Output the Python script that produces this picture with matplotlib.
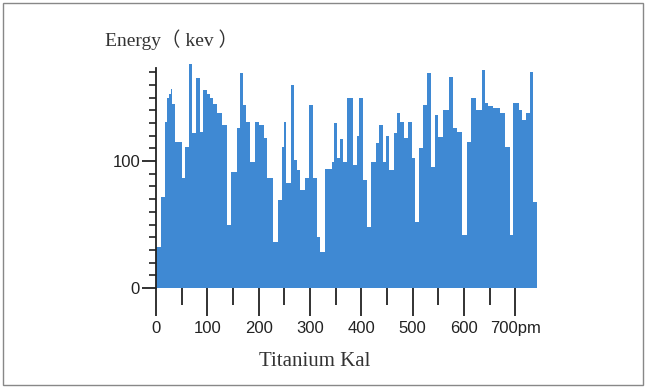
import matplotlib
matplotlib.use("Agg")
import matplotlib.pyplot as plt
from matplotlib.ticker import MultipleLocator, FixedLocator
from matplotlib.patches import Rectangle
import numpy as np

# Segment edges (x, pm) and bar heights (energy, keV)
edges = [0, 9, 17, 22, 25, 30, 32, 37, 51, 57, 64, 70, 78, 86, 92, 99, 105, 111, 119, 129,
         138, 146, 158, 164, 170, 175, 183, 193, 201, 210, 216, 228, 238, 245, 249, 253,
         263, 269, 275, 281, 290, 298, 306, 314, 320, 329, 343, 347, 353, 358, 364, 372,
         384, 392, 396, 403, 411, 419, 428, 435, 442, 448, 454, 464, 470, 475, 483, 491,
         499, 505, 513, 520, 528, 536, 544, 549, 559, 571, 579, 586, 596, 606, 614, 624,
         635, 641, 647, 657, 670, 680, 690, 696, 707, 713, 721, 729, 735, 742]
heights = [32, 72, 131, 150, 153, 157, 145, 115, 87, 111, 176, 122, 165, 123, 156, 153, 150, 145, 138,
           128, 50, 91, 126, 169, 144, 131, 99, 131, 128, 118, 87, 36, 69, 111, 131,
           83, 160, 101, 93, 77, 87, 144, 87, 40, 28, 94, 99, 130, 102, 117, 99,
           150, 97, 120, 150, 85, 48, 99, 114, 128, 99, 120, 93, 122, 138, 131, 118,
           131, 102, 52, 110, 144, 169, 95, 136, 119, 140, 166, 126, 123, 42, 115, 150,
           140, 172, 146, 143, 142, 138, 111, 42, 146, 140, 132, 138, 170, 68]
xtick_vals = [0, 100, 200, 300, 400, 500, 600, 700]
xtick_labels = ["0", "100", "200", "300", "400", "500", "600", "700pm"]
ytick_vals = [0, 100]
ytick_labels = ["0", "100"]

n = min(len(heights), len(edges) - 1)
lefts = np.array(edges[:n])
widths = np.diff(np.array(edges[:n + 1]))
vals = np.array(heights[:n])

W, H = 647, 387
fig = plt.figure(figsize=(W / 100, H / 100), dpi=100)
fig.patch.set_facecolor("white")

ax = fig.add_axes([156 / W, 99 / H, (538.4 - 156) / W, (318.7 - 99) / H])
ax.bar(lefts, vals, width=widths, align="edge", color="#3f89d3", edgecolor="none",
       linewidth=0, clip_on=False)

ax.set_xlim(0, 745)
ax.set_ylim(0, 173)

for s in ["top", "right", "bottom"]:
    ax.spines[s].set_visible(False)
ax.spines["left"].set_color("#222222")
ax.spines["left"].set_linewidth(1.3)

ax.xaxis.set_major_locator(FixedLocator(xtick_vals))
ax.set_xticklabels(xtick_labels)
ax.xaxis.set_minor_locator(FixedLocator([50, 150, 250, 350, 450, 550, 650, 750]))
ax.yaxis.set_major_locator(FixedLocator(ytick_vals))
ax.set_yticklabels(ytick_labels)
ax.yaxis.set_minor_locator(MultipleLocator(10))

ax.tick_params(axis="x", which="major", length=20, width=1.3, color="#222222", pad=4,
               labelsize=12, labelcolor="#222222")
ax.tick_params(axis="x", which="minor", length=12, width=1.3, color="#222222")
ax.tick_params(axis="y", which="major", length=10, width=1.3, color="#222222", pad=1.5,
               labelsize=12, labelcolor="#222222")
ax.tick_params(axis="y", which="minor", length=5, width=1.2, color="#222222")
for lab in ax.get_xticklabels() + ax.get_yticklabels():
    lab.set_family(["Liberation Sans", "DejaVu Sans"])

fig.text(105 / W, 1 - 40 / H, "Energy（ kev ）", ha="left", va="center", fontsize=14,
         family=["Liberation Serif", "Noto Sans CJK SC", "DejaVu Sans"], color="#333333")
fig.text(315 / W, 1 - 362 / H, "Titanium Kal", ha="center", va="center", fontsize=15,
         family=["Liberation Serif", "DejaVu Serif"], color="#333333")

fig.add_artist(Rectangle((3 / W, 2 / H), (643 - 3) / W, (384 - 2) / H,
                         transform=fig.transFigure, fill=False, edgecolor="#888888",
                         linewidth=1.0))

fig.savefig("out.png", dpi=100, facecolor="white")
